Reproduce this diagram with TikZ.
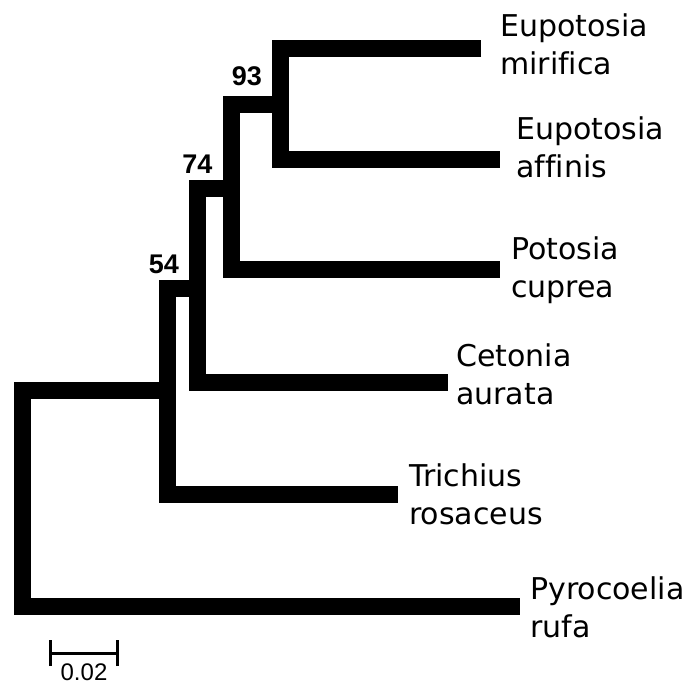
\documentclass[tikz,border=0pt]{standalone}
\usepackage{fontspec}
\setmainfont{DejaVu Sans}[Ligatures=NoCommon]
\newfontfamily\numfont{Liberation Sans}
\begin{document}
\begin{tikzpicture}[x=1pt,y=-1pt,
  branch/.style={line width=17pt, line join=miter, line cap=butt},
  taxon/.style={anchor=west, inner sep=0pt, align=left,
    font=\fontsize{30}{38}\selectfont},
  support/.style={anchor=base, inner sep=0pt, font=\numfont\bfseries\fontsize{27}{27}\selectfont},
  scalebar/.style={line width=3pt}]
\path[use as bounding box] (0,0) rectangle (691,686);
% tips
\coordinate (mir) at (481,48);
\coordinate (aff) at (500,159);
\coordinate (pot) at (500,269);
\coordinate (cet) at (448,382);
\coordinate (tri) at (398,494);
\coordinate (pyr) at (520,606);
% internal nodes
\coordinate (nE) at (280,104);
\coordinate (n93) at (231,188);
\coordinate (n74) at (197,288);
\coordinate (n54) at (167,390);
\coordinate (root) at (22.5,498);
% branches
\draw[branch] (mir) -| (nE) |- (aff);
\draw[branch] (nE) -| (n93) |- (pot);
\draw[branch] (n93) -| (n74) |- (cet);
\draw[branch] (n74) -| (n54) |- (tri);
\draw[branch] (n54) -| (root) |- (pyr);
% labels
\node[taxon] (Lmir) at (500,48) {\strut Eupotosia\\\strut mirifica};
\node[taxon] (Laff) at (516,151) {\strut Eupotosia\\\strut affinis};
\node[taxon] (Lpot) at (511,271) {\strut Potosia\\\strut cuprea};
\node[taxon] (Lcet) at (456,378) {\strut Cetonia\\\strut aurata};
\node[taxon] (Ltri) at (409,498) {\strut Trichius\\\strut rosaceus};
\node[taxon] (Lpyr) at (530,611) {\strut Pyrocoelia\\\strut rufa};
% support values
\node[support] (s93) at (247,85) {93};
\node[support] (s74) at (197.5,173) {74};
\node[support] (s54) at (164,273) {54};
% scale bar
\coordinate (sbL) at (50,653);
\coordinate (sbR) at (117,653);
\draw[scalebar] (sbL) -- (sbR);
\draw[scalebar] ([yshift=-13pt]sbL) -- ([yshift=13pt]sbL);
\draw[scalebar] ([yshift=-13pt]sbR) -- ([yshift=13pt]sbR);
\node[inner sep=0pt, font=\numfont\fontsize{24}{24}\selectfont] (sbT) at (84,672) {0.02};
\end{tikzpicture}
\end{document}
